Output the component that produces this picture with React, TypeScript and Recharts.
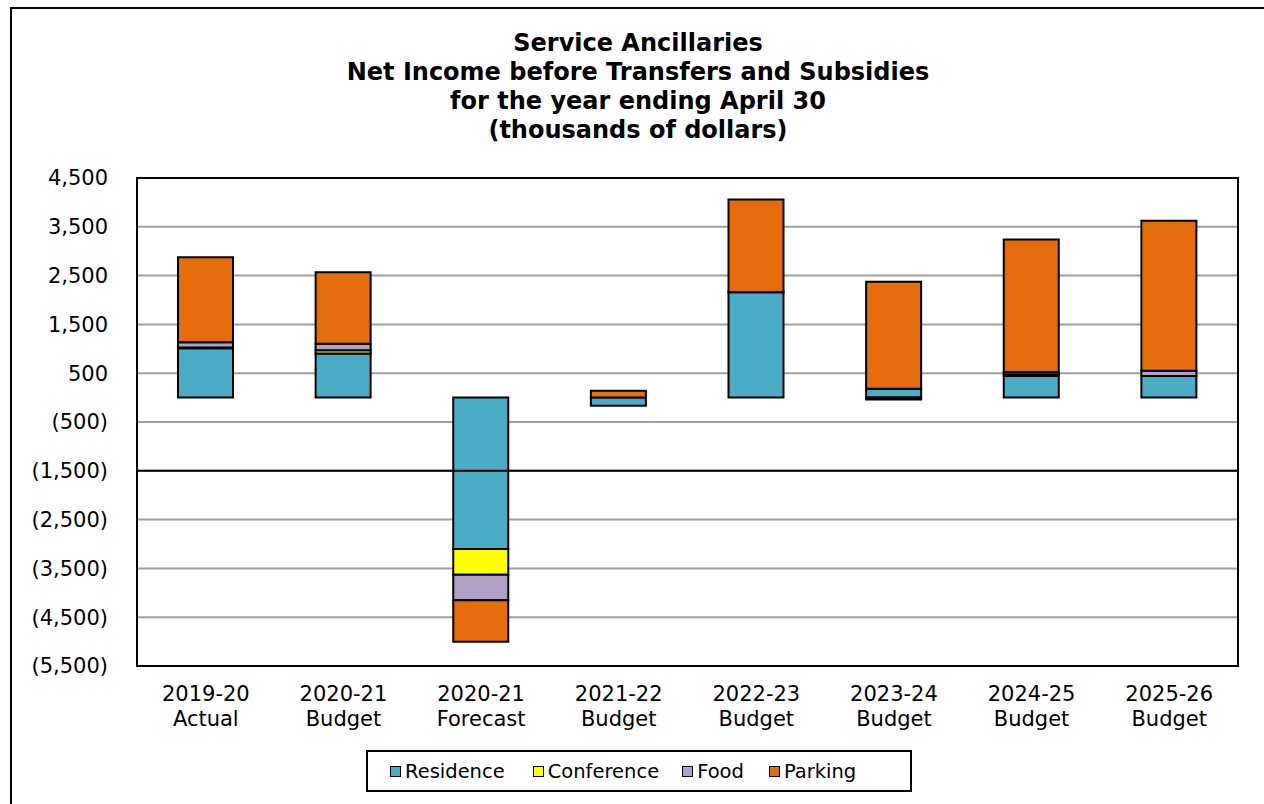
import React from 'react';
import { BarChart, Bar, XAxis, YAxis, CartesianGrid, ReferenceLine, ReferenceArea } from 'recharts';

const years = ['2019-20', '2020-21', '2020-21', '2021-22', '2022-23', '2023-24', '2024-25', '2025-26'];
const kinds = ['Actual', 'Budget', 'Forecast', 'Budget', 'Budget', 'Budget', 'Budget', 'Budget'];
const residence = [1010, 905, -3100, -165, 2160, 180, 445, 445];
const conference = [15, 65, -530, 0, 0, 0, 35, 0];
const food = [110, 135, -525, 0, 0, -40, 45, 105];
const parking = [1740, 1465, -850, 140, 1900, 2195, 2715, 3075];
const yTicks = [-5500, -4500, -3500, -2500, -1500, -500, 500, 1500, 2500, 3500, 4500];
const titleLines = [
  'Service Ancillaries',
  'Net Income before Transfers and Subsidies',
  'for the year ending April 30',
  '(thousands of dollars)',
];

const series = [
  { key: 'Residence', values: residence, color: '#4BACC6' },
  { key: 'Conference', values: conference, color: '#FFFF00' },
  { key: 'Food', values: food, color: '#B2A1C7' },
  { key: 'Parking', values: parking, color: '#E46C0A' },
];

const data = years.map((y, i) => {
  const row: any = { label: `${y} ${kinds[i]} ${i}` };
  series.forEach((s) => (row[s.key] = s.values[i]));
  return row;
});

const FONT = '"DejaVu Sans", Verdana, sans-serif';
const legendGaps = [0, 28, 23, 25];

const fmt = (v: number) => {
  const s = Math.abs(v).toLocaleString('en-US');
  return v < 0 ? `(${s})` : s;
};

const XTick = ({ x, y, index }: any) => (
  <text x={x} y={y} textAnchor="middle" fontSize={21} fill="#000" fontFamily={FONT}>
    <tspan x={x} dy={35}>{years[index]}</tspan>
    <tspan x={x} dy={25}>{kinds[index]}</tspan>
  </text>
);

export default function App() {
  return (
    <div style={{ position: 'absolute', left: 0, top: 0, width: 1264, height: 804, overflow: 'hidden', background: '#fff', fontFamily: FONT }}>
      <div style={{ position: 'absolute', left: 10, top: 7, width: 1300, height: 850, border: '2px solid #000' }} />
      <div style={{ position: 'absolute', left: 10, top: 29, width: 1256, textAlign: 'center', fontWeight: 'bold', fontSize: 24, lineHeight: '29px' }}>
        {titleLines.map((t) => (
          <div key={t}>{t}</div>
        ))}
      </div>
      <div style={{ position: 'absolute', left: 0, top: 0 }}>
        <BarChart
          width={1264}
          height={804}
          data={data}
          stackOffset="sign"
          barSize={55}
          margin={{ top: 178, right: 26, bottom: 0, left: 0 }}
        >
          <CartesianGrid vertical={false} stroke="#a0a0a0" strokeWidth={2} />
          <XAxis dataKey="label" axisLine={false} tickLine={false} tickSize={0} tickMargin={0} tick={<XTick />} interval={0} height={138} />
          <YAxis
            width={137}
            domain={[-5500, 4500]}
            ticks={yTicks}
            interval={0}
            axisLine={false}
            tickLine={false}
            tickSize={0}
            tickMargin={29}
            tickFormatter={fmt}
            tick={{ fontSize: 21, fill: '#000', fontFamily: FONT }}
          />
          <ReferenceLine y={-1500} stroke="#000" strokeWidth={2} />
          {series.map((s) => (
            <Bar key={s.key} dataKey={s.key} stackId="a" fill={s.color} stroke="#000" strokeWidth={2} isAnimationActive={false} />
          ))}
          <ReferenceArea y1={-5500} y2={4500} fill="none" stroke="#000" strokeWidth={2} ifOverflow="visible" />
        </BarChart>
      </div>
      <div
        style={{
          position: 'absolute',
          left: 366,
          top: 750,
          width: 520,
          height: 38,
          paddingLeft: 22,
          border: '2px solid #000',
          display: 'flex',
          alignItems: 'center',
          fontSize: 19.5,
        }}
      >
        {series.map((s, i) => (
          <div key={s.key} style={{ display: 'flex', alignItems: 'center', marginLeft: legendGaps[i] }}>
            <span style={{ display: 'inline-block', width: 9, height: 9, background: s.color, border: '1.5px solid #000', marginRight: 4 }} />
            <span>{s.key}</span>
          </div>
        ))}
      </div>
    </div>
  );
}
